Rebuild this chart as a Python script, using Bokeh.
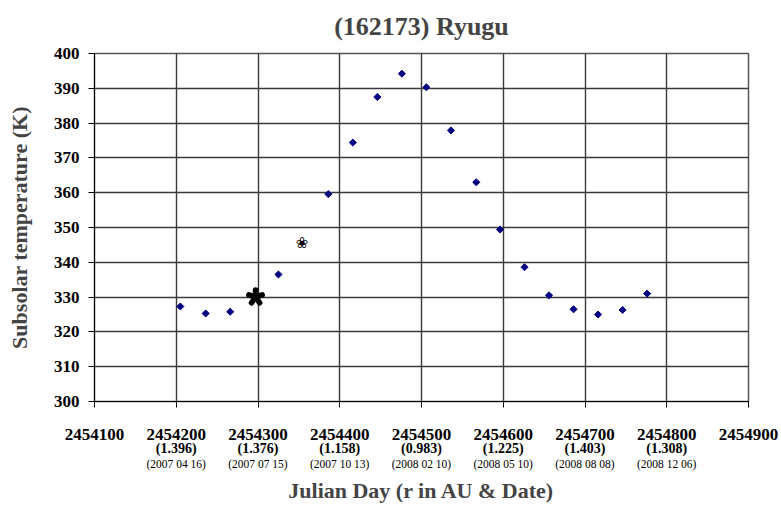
from bokeh.plotting import figure
from bokeh.models import LinearAxis, FixedTicker, Range1d, ColumnDataSource
from bokeh.core.properties import value
from bokeh.embed import file_html
from bokeh.resources import INLINE

# ---- data ----
chart_title = "(162173) Ryugu"
y_title = "Subsolar temperature (K)"
x_title = "Julian Day (r in AU & Date)"

julian_day = [2454205, 2454236, 2454266, 2454296, 2454325, 2454386,
              2454416, 2454446, 2454476, 2454506, 2454536, 2454567, 2454596,
              2454626, 2454656, 2454686, 2454716, 2454746, 2454776]
subsolar_temp = [327.3, 325.3, 325.8, 330.0, 336.5, 359.6,
                 374.4, 387.5, 394.2, 390.3, 377.9, 363.0, 349.4,
                 338.6, 330.5, 326.5, 325.0, 326.3, 331.0]

asterisk_day = [2454297]
asterisk_temp = [330.0]
flower_day = [2454354]
flower_temp = [345.5]

x_ticks = [2454100, 2454200, 2454300, 2454400, 2454500, 2454600, 2454700, 2454800, 2454900]
x_tick_labels = ["2454100", "2454200", "2454300", "2454400", "2454500",
                 "2454600", "2454700", "2454800", "2454900"]
r_labels = ["", "(1.396)", "(1.376)", "(1.158)", "(0.983)", "(1.225)", "(1.403)", "(1.308)", ""]
date_labels = ["", "(2007 04 16)", "(2007 07 15)", "(2007 10 13)", "(2008 02 10)",
               "(2008 05 10)", "(2008 08 08)", "(2008 12 06)", ""]
y_ticks = [300, 310, 320, 330, 340, 350, 360, 370, 380, 390, 400]

FONT = "Liberation Serif"

p = figure(width=779, height=505, output_backend="svg", toolbar_location=None,
           x_range=Range1d(2454100, 2454900), y_range=Range1d(300, 400),
           min_border_left=94, min_border_right=31, min_border_top=53, min_border_bottom=99,
           background_fill_color="white", border_fill_color="white")

p.title.text = chart_title
p.title.text_font = FONT
p.title.text_font_size = "26px"
p.title.text_font_style = "bold"
p.title.align = "center"
p.title.vertical_align = "top"
p.title.standoff = 22

p.outline_line_color = "#555555"
p.outline_line_width = 1.5

# grid
p.xgrid.ticker = FixedTicker(ticks=x_ticks)
p.ygrid.ticker = FixedTicker(ticks=y_ticks)
for g in (p.xgrid, p.ygrid):
    g.grid_line_color = "#3a3a3a"
    g.grid_line_width = 1.4

# y axis
ya = p.yaxis[0]
ya.ticker = FixedTicker(ticks=y_ticks)
ya.major_label_overrides = {t: str(t) for t in y_ticks}
ya.axis_label = y_title
ya.axis_label_text_font = FONT
ya.axis_label_text_font_size = "22px"
ya.axis_label_text_font_style = "bold"
ya.axis_label_standoff = 19
ya.major_label_text_font = FONT
ya.major_label_text_font_size = "17px"
ya.major_label_text_font_style = "bold"
ya.major_label_text_color = "black"
ya.major_label_standoff = 9
ya.major_tick_out = 6
ya.major_tick_in = 0
ya.minor_tick_line_color = None
ya.axis_line_color = "black"
ya.major_tick_line_color = "black"

# x axis 1: Julian day
xa = p.xaxis[0]
xa.ticker = FixedTicker(ticks=x_ticks)
xa.major_label_overrides = dict(zip(x_ticks, x_tick_labels))
xa.major_label_text_font = FONT
xa.major_label_text_font_size = "17px"
xa.major_label_text_font_style = "bold"
xa.major_label_text_color = "black"
xa.major_label_standoff = 21
xa.major_tick_out = 6
xa.major_tick_in = 0
xa.minor_tick_line_color = None
xa.axis_line_color = "black"
xa.major_tick_line_color = "black"

# x axis 2: heliocentric distance
xr = LinearAxis(ticker=FixedTicker(ticks=x_ticks),
                major_label_overrides=dict(zip(x_ticks, r_labels)),
                axis_line_color=None, major_tick_line_color=None, minor_tick_line_color=None,
                major_label_text_font=FONT, major_label_text_font_size="14px",
                major_label_text_font_style="bold", major_label_text_color="black",
                major_label_standoff=-8)
p.add_layout(xr, "below")

# x axis 3: date + axis title
xd = LinearAxis(ticker=FixedTicker(ticks=x_ticks),
                major_label_overrides=dict(zip(x_ticks, date_labels)),
                axis_line_color=None, major_tick_line_color=None, minor_tick_line_color=None,
                major_label_text_font=FONT, major_label_text_font_size="11.5px",
                major_label_text_color="black", major_label_standoff=-7,
                axis_label=x_title, axis_label_text_font=FONT,
                axis_label_text_font_size="22px", axis_label_text_font_style="bold",
                axis_label_standoff=5)
p.add_layout(xd, "below")

src = ColumnDataSource(dict(x=julian_day, y=subsolar_temp))
p.scatter("x", "y", source=src, marker="square", angle=45, angle_units="deg", size=5,
          fill_color="#000080", line_color="#000080")

# big five-armed asterisk
arm_angles = [90, 18, 162, 234, 306]
p.ray(x=asterisk_day * len(arm_angles), y=asterisk_temp * len(arm_angles),
      length=7, length_units="screen", angle=arm_angles, angle_units="deg",
      line_color="black", line_width=5.5, line_cap="round")

# small florette
p.scatter(x=flower_day, y=flower_temp, marker="circle", size=9,
          fill_color="white", line_color=None)
p.text(x=flower_day, y=flower_temp, text=["\u2740"], text_font=value("DejaVu Sans"),
       text_font_style="bold", text_font_size="15px", text_align="center",
       text_baseline="middle", text_color="black")

open("out.html", "w").write(file_html(p, INLINE))
